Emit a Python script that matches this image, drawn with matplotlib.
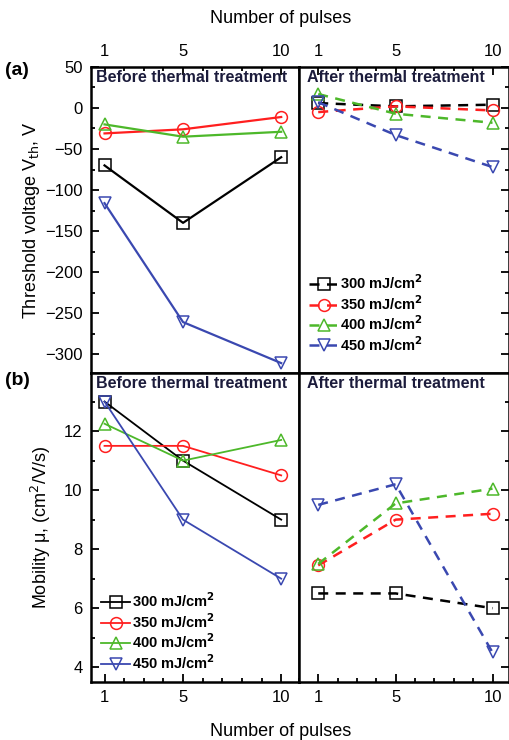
import matplotlib
import numpy as np
from matplotlib import pyplot as plt
from matplotlib.ticker import FixedLocator, MultipleLocator

matplotlib.use('Agg')
plt.rcParams['font.family'] = ['Liberation Sans', 'DejaVu Sans']

pulses = [1, 5, 10]
fluences = ['300 mJ/cm$^\\mathbf{2}$', '350 mJ/cm$^\\mathbf{2}$', '400 mJ/cm$^\\mathbf{2}$', '450 mJ/cm$^\\mathbf{2}$']
colors = ['black', '#ff1f1f', '#4db82a', '#3a48b0']
markers = ['s', 'o', '^', 'v']

# 阈值电压 (a)
vth_before_300 = [-70, -140, -60]
vth_before_350 = [-31, -26, -11]
vth_before_400 = [-20, -35, -29]
vth_before_450 = [-116, -261, -311]
vth_after_300 = [6, 2, 4]
vth_after_350 = [-5, 2, -3]
vth_after_400 = [17, -7, -18]
vth_after_450 = [7, -33, -72]

# 迁移率 (b)
mu_before_300 = [13.0, 11.0, 9.0]
mu_before_350 = [11.5, 11.5, 10.5]
mu_before_400 = [12.25, 11.0, 11.7]
mu_before_450 = [13.0, 9.0, 7.0]
mu_after_300 = [6.5, 6.5, 6.0]
mu_after_350 = [7.45, 9.0, 9.2]
mu_after_400 = [7.5, 9.55, 10.05]
mu_after_450 = [9.5, 10.2, 4.5]

vth_before = [vth_before_300, vth_before_350, vth_before_400, vth_before_450]
vth_after = [vth_after_300, vth_after_350, vth_after_400, vth_after_450]
mu_before = [mu_before_300, mu_before_350, mu_before_400, mu_before_450]
mu_after = [mu_after_300, mu_after_350, mu_after_400, mu_after_450]

fig = plt.figure(figsize=(5.1, 7.4), dpi=100)

x0, xm, x1 = 0.178, 0.586, 0.998
y_top, y_mid, y_bot = 0.9095, 0.496, 0.0784
ax_a1 = fig.add_axes([x0, y_mid, xm - x0, y_top - y_mid])
ax_a2 = fig.add_axes([xm, y_mid, x1 - xm, y_top - y_mid], sharey=ax_a1)
ax_b1 = fig.add_axes([x0, y_bot, xm - x0, y_mid - y_bot])
ax_b2 = fig.add_axes([xm, y_bot, x1 - xm, y_mid - y_bot], sharey=ax_b1)


def draw(ax, series, style, lw):
    for vals, c, m, lab in zip(series, colors, markers, fluences):
        ax.plot(pulses, vals, linestyle=style, color=c, lw=lw, marker=m,
                markersize=8.5, markerfacecolor='none', markeredgecolor=c,
                markeredgewidth=1.1, label=lab, dashes=(4, 3) if style == '--' else (None, None))


draw(ax_a1, vth_before, '-', 1.6)
draw(ax_a2, vth_after, '--', 1.8)
draw(ax_b1, mu_before, '-', 1.3)
draw(ax_b2, mu_after, '--', 1.8)

for ax in [ax_a1, ax_a2, ax_b1, ax_b2]:
    for s in ax.spines.values():
        s.set_linewidth(1.8)
    ax.xaxis.set_major_locator(FixedLocator([1, 5, 10]))
    ax.xaxis.set_minor_locator(MultipleLocator(1))
    ax.tick_params(which='both', direction='in', width=1.3, labelsize=12)
    ax.tick_params(which='major', length=6, pad=6)
    ax.tick_params(which='minor', length=3)

ax_a1.set_xlim(0.3, 10.9)
ax_b1.set_xlim(0.3, 10.9)
ax_a2.set_xlim(0.0, 10.85)
ax_b2.set_xlim(0.0, 10.85)
ax_a1.set_ylim(-323, 50)
ax_b1.set_ylim(3.5, 13.97)

ax_a1.yaxis.set_major_locator(MultipleLocator(50))
ax_a1.yaxis.set_minor_locator(MultipleLocator(25))
ax_b1.yaxis.set_major_locator(MultipleLocator(2))
ax_b1.yaxis.set_minor_locator(MultipleLocator(1))

# 上面两幅：x刻度在顶部
for ax in [ax_a1, ax_a2]:
    ax.tick_params(which='both', top=True, bottom=False, labeltop=True, labelbottom=False)
for ax in [ax_b1, ax_b2]:
    ax.tick_params(which='both', top=False, bottom=True)
for ax in [ax_a1, ax_b1]:
    ax.tick_params(which='both', left=True, right=False)
for ax in [ax_a2, ax_b2]:
    ax.tick_params(which='both', left=False, right=True, labelleft=False, labelright=False)

ax_a1.set_ylabel('Threshold voltage V$_{\\mathrm{th}}$, V', fontsize=13, labelpad=2)
ax_b1.set_ylabel('Mobility \u03bc, (cm$^2$/V/s)', fontsize=13, labelpad=8)
fig.text(0.55, 0.975, 'Number of pulses', ha='center', va='center', fontsize=13)
fig.text(0.55, 0.012, 'Number of pulses', ha='center', va='center', fontsize=13)
fig.text(0.01, 0.905, '(a)', fontsize=14, fontweight='bold', va='center')
fig.text(0.01, 0.486, '(b)', fontsize=14, fontweight='bold', va='center')

title_col = '#1c1c3c'
for ax in [ax_a1, ax_b1]:
    ax.text(0.025, 0.99, 'Before thermal treatment', transform=ax.transAxes,
            ha='left', va='top', fontsize=11.5, fontweight='bold', color=title_col)
for ax in [ax_a2, ax_b2]:
    ax.text(0.04, 0.99, 'After thermal treatment', transform=ax.transAxes,
            ha='left', va='top', fontsize=11.5, fontweight='bold', color=title_col)

leg_kw = dict(loc='lower left', frameon=False, handlelength=2.0, handletextpad=0.15,
              labelspacing=0.12, prop={'weight': 'bold', 'size': 10.5}, borderaxespad=0.3)
ax_a2.legend(bbox_to_anchor=(0.0, 0.03), **leg_kw)
ax_b1.legend(bbox_to_anchor=(0.0, 0.0), **leg_kw)

plt.savefig('out.png', dpi=100)
plt.close()
